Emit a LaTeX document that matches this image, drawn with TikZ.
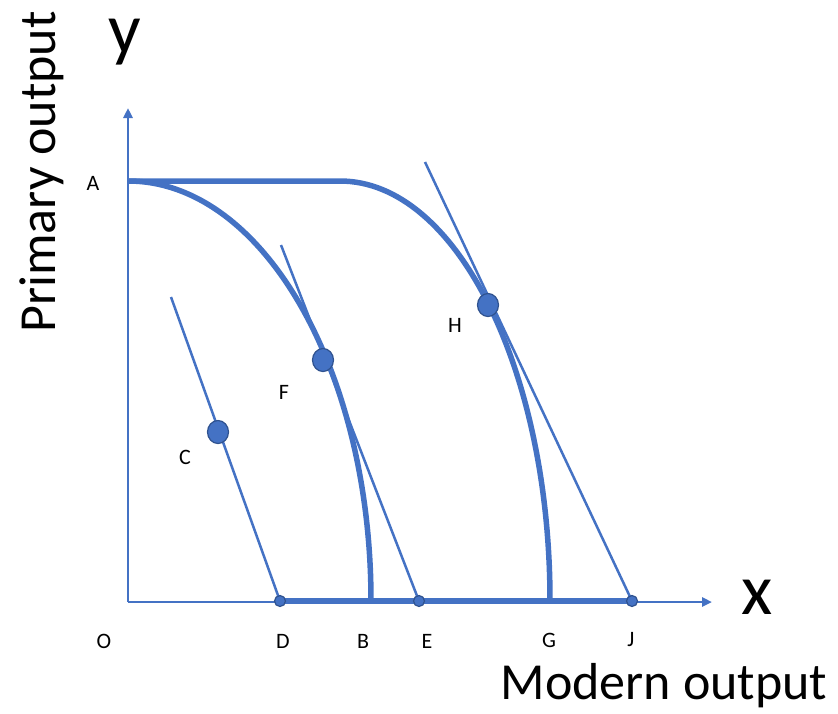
\documentclass[tikz,border=0pt]{standalone}
\usepackage{fontspec}
\setmainfont{Carlito}
\usetikzlibrary{arrows.meta,shapes.geometric}
\definecolor{ppfblue}{HTML}{4472C4}
\definecolor{ppfdark}{HTML}{2F528F}

\begin{document}
\begin{tikzpicture}[x=1pt, y=-1pt, font=\fontsize{22}{26}\selectfont, >={Triangle[length=10pt, width=9pt]},
  axis/.style={draw=ppfblue, line width=2.5pt},
  frontier/.style={draw=ppfblue, line width=5.5pt},
  tangent/.style={draw=ppfblue, line width=2.5pt},
  bigdot/.style={ellipse, draw=ppfdark, fill=ppfblue, line width=1.2pt, minimum width=21pt, minimum height=23pt, inner sep=0pt},
  smalldot/.style={circle, draw=ppfdark, fill=ppfblue, line width=1.2pt, minimum size=11pt, inner sep=0pt},
  lbl/.style={inner sep=0pt}]
  \useasboundingbox (0,0) rectangle (838,713);
  % axes
  \coordinate (O) at (128,602);
  \coordinate (ytop) at (128,108);
  \coordinate (xend) at (712,602);
  \draw[axis, ->] (O) -- (ytop);
  \draw[axis, ->] (O) -- (xend);
  % points on the frontiers
  \coordinate (A) at (128,181);
  \coordinate (kink) at (340,181);
  \coordinate (B) at (371,601);
  \coordinate (G) at (550,601);
  \coordinate (D) at (280,601);
  \coordinate (E) at (419,601);
  \coordinate (J) at (632,601);
  \draw[frontier] (D) -- (J);
  % inner and outer frontiers
  \draw[frontier] (A) .. controls (262,181) and (371,369) .. (B);
  \draw[frontier] (A) -- (kink) .. controls (456,181) and (550,369) .. (G);
  % tangent lines
  \coordinate (ctop) at (171,297);
  \coordinate (ftop) at (281,245);
  \coordinate (htop) at (425,162);
  \draw[tangent] (ctop) -- (D);
  \draw[tangent] (ftop) -- (E);
  \draw[tangent] (htop) -- (J);
  \node[smalldot] (Ddot) at (D) {};
  \node[smalldot] (Edot) at (E) {};
  \node[smalldot] (Jdot) at (J) {};
  \node[bigdot] (C) at (218,432) {};
  \node[bigdot] (F) at (323,360) {};
  \node[bigdot] (H) at (488,305) {};
  % labels
  \node[lbl] (labA) at (93,183) {A};
  \node[lbl] (labC) at (185,457) {C};
  \node[lbl] (labF) at (284,392) {F};
  \node[lbl] (labH) at (455,325) {H};
  \node[lbl] (labO) at (104,641) {O};
  \node[lbl] (labD) at (283,641) {D};
  \node[lbl] (labB) at (363,641) {B};
  \node[lbl] (labE) at (427,641) {E};
  \node[lbl] (labG) at (549,640) {G};
  \node[lbl] (labJ) at (631,640) {J};
  \node[lbl, font=\fontsize{72}{74}\selectfont] (ylab) at (125,42) {y};
  \node[lbl, font=\fontsize{72}{74}\selectfont] (xlab) at (757,597) {x};
  \node[lbl, rotate=90, font=\fontsize{52}{60}\selectfont] (ytitle) at (42,172) {Primary output};
  \node[lbl, font=\fontsize{52}{60}\selectfont] (xtitle) at (664,686) {Modern output};
\end{tikzpicture}
\end{document}
